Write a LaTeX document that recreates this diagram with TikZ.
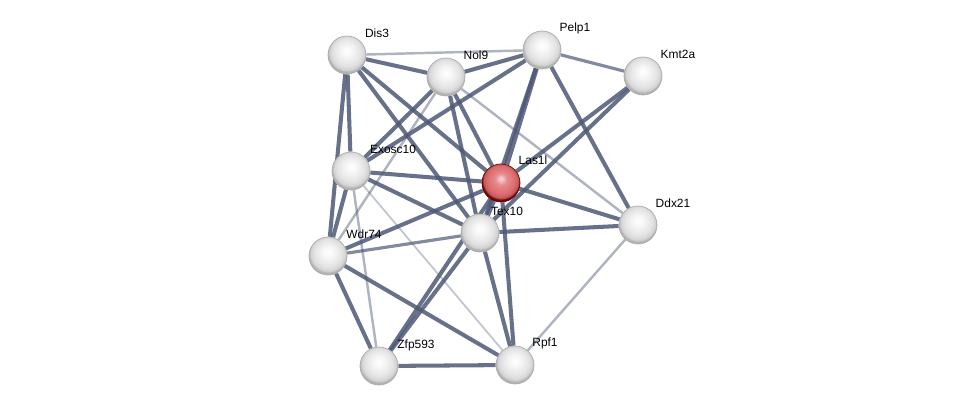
\documentclass[tikz,border=0pt]{standalone}
\usepackage{fontspec}
\setmainfont{Liberation Sans}
\usetikzlibrary{backgrounds}
\definecolor{edgecol}{RGB}{78,88,118}
\definecolor{redball}{RGB}{222,108,110}
\pgfdeclareradialshading{greyball}{\pgfqpoint{0bp}{6bp}}{color(0bp)=(white); color(8bp)=(gray!8); color(18bp)=(gray!22); color(23bp)=(gray!35); color(25bp)=(gray!60); color(50bp)=(gray!60)}
\pgfdeclareradialshading{pinkball}{\pgfqpoint{0bp}{6bp}}{color(0bp)=(red!15!white); color(8bp)=(redball!80!white); color(18bp)=(redball); color(23bp)=(redball!85!black); color(25bp)=(red!45!black); color(50bp)=(red!45!black)}
\tikzset{
  ball/.style={circle, minimum size=38*0.02cm, inner sep=0pt, shading=greyball, draw=gray!65, line width=0.4pt},
  redb/.style={ball, shading=pinkball, draw=red!40!black},
  lab/.style={font=\fontsize{6.8}{8}\selectfont, inner sep=0.5pt},
  strong/.style={draw=edgecol, line width=2.3pt, opacity=0.85},
  mid/.style={draw=edgecol, line width=1.8pt, opacity=0.7},
  weak/.style={draw=edgecol, line width=1.4pt, opacity=0.45},
  faint/.style={draw=edgecol, line width=1.0pt, opacity=0.35}
}
\begin{document}
\begin{tikzpicture}[x=0.02cm, y=-0.02cm]
        \useasboundingbox (0,0) rectangle (975,412);
        % proteins
        \node[ball] (dis3) at (347, 55) {};
        \node[ball] (nol9) at (446, 77) {};
        \node[ball] (pelp1) at (542, 50) {};
        \node[ball] (kmt2a) at (643, 76) {};
        \node[ball] (exosc10) at (351, 171) {};
        \node[redb] (las1l) at (501, 183) {};
        \node[ball] (tex10) at (480, 233) {};
        \node[ball] (ddx21) at (638, 225) {};
        \node[ball] (wdr74) at (328, 256) {};
        \node[ball] (zfp593) at (379, 366) {};
        \node[ball] (rpf1) at (515, 365) {};

        \node[lab] at (377, 33) {Dis3};
        \node[lab] at (476, 55) {Nol9};
        \node[lab] at (575, 28) {Pelp1};
        \node[lab] at (678, 54) {Kmt2a};
        \node[lab] at (393, 149) {Exosc10};
        \node[lab] at (533, 160) {Las1l};
        \node[lab] at (507, 211) {Tex10};
        \node[lab] at (673, 203) {Ddx21};
        \node[lab] at (364, 234) {Wdr74};
        \node[lab] at (416, 345) {Zfp593};
        \node[lab] at (545, 343) {Rpf1};

        \begin{scope}[on background layer]
        \draw[weak] (dis3)--(pelp1);
        \draw[strong] (dis3)--(nol9);
        \draw[strong] (dis3)--(exosc10);
        \draw[strong] (dis3)--(wdr74);
        \draw[strong] (dis3)--(las1l);
        \draw[strong] (dis3)--(tex10);
        \draw[strong] (nol9)--(pelp1);
        \draw[strong] (nol9)--(exosc10);
        \draw[weak] (nol9)--(wdr74);
        \draw[strong] (nol9)--(las1l);
        \draw[strong] (nol9)--(tex10);
        \draw[weak] (nol9)--(ddx21);
        \draw[mid] (pelp1)--(kmt2a);
        \draw[strong] (pelp1)--(exosc10);
        \draw[strong, line width=2.9pt] (pelp1)--(las1l);
        \draw[strong] (pelp1)--(tex10);
        \draw[strong] (pelp1)--(ddx21);
        \draw[strong] (kmt2a)--(las1l);
        \draw[strong] (kmt2a)--(tex10);
        \draw[strong] (exosc10)--(las1l);
        \draw[strong] (exosc10)--(tex10);
        \draw[strong] (exosc10)--(wdr74);
        \draw[weak] (exosc10)--(zfp593);
        \draw[faint] (exosc10)--(rpf1);
        \draw[strong, line width=2.9pt] (las1l)--(tex10);
        \draw[strong] (las1l)--(ddx21);
        \draw[strong] (las1l)--(wdr74);
        \draw[strong] (las1l)--(rpf1);
        \draw[strong] (las1l)--(zfp593);
        \draw[strong] (tex10)--(ddx21);
        \draw[mid] (tex10)--(wdr74);
        \draw[strong] (tex10)--(zfp593);
        \draw[strong] (tex10)--(rpf1);
        \draw[strong] (wdr74)--(zfp593);
        \draw[strong] (wdr74)--(rpf1);
        \draw[strong] (zfp593)--(rpf1);
        \draw[weak] (ddx21)--(rpf1);
        \end{scope}
    \end{tikzpicture}
\end{document}
